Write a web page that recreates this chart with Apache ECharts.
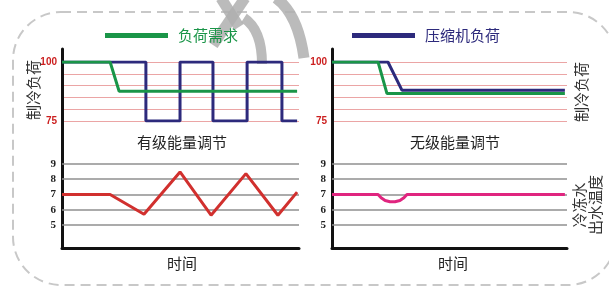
<!DOCTYPE html>
<html><head><meta charset="utf-8">
<script src="https://cdn.jsdelivr.net/npm/echarts@6/dist/echarts.min.js"></script>
<style>html,body{margin:0;padding:0;background:#fff}#c{width:609px;height:287px}</style>
</head><body><div id="c"></div>
<script>
// ---- data ----
const seriesNames = ['负荷需求', '压缩机负荷', '冷冻水出水温度'];
const loadTickLabels = [75, 100];
const tempTickLabels = [5, 6, 7, 8, 9];
const panelTitles = ['有级能量调节', '无级能量调节'];
const timeLabel = '时间';
// stepped (有级) panel, x = time 0..100
const stepDemand = [[0,100],[20.3,100],[24.1,87.6],[99.2,87.6]];
const stepCompressor = [[0,100],[20.3,100],[35.4,100],[35.4,75],[49.8,75],[49.8,100],[63.7,100],[63.7,75],[78.1,75],[78.1,100],[92.8,100],[92.8,75],[99.2,75]];
const stepWaterTemp = [[0,7],[20.3,7],[34.6,5.7],[49.8,8.47],[62.9,5.64],[77.6,8.36],[91.1,5.64],[99.2,7.15]];
// stepless (无级) panel
const smoothDemand = [[0,100],[19.6,100],[23.4,86.6],[99.1,86.6]];
const smoothCompressor = [[0,100],[23.8,100],[29.8,88],[99.1,88]];
const smoothWaterTemp = [[0,7],[19.6,7],[20.9,6.78],[22.6,6.6],[24.7,6.52],[26.8,6.52],[28.9,6.6],[30.6,6.78],[31.9,7],[99.1,7]];

const GREEN = '#1a9548', NAVY = '#2d2a7c', RED = '#d1302e', MAGENTA = '#e0257f';
const CJK = '"Noto Sans CJK SC", sans-serif';
const WM = 'rgba(175,175,175,0.85)';

const chart = echarts.init(document.getElementById('c'), null, {renderer: 'canvas'});

function loadY(gi) {
  return {gridIndex: gi, type: 'value', min: 75, max: 100, interval: 5,
    axisLine: {show: false}, axisTick: {show: false},
    splitLine: {lineStyle: {color: '#eba5a5', width: 1}},
    axisLabel: {margin: 5, color: '#cc1f1f', fontWeight: 'bold', fontSize: 10, fontFamily: 'Liberation Sans',
      formatter: v => loadTickLabels.includes(v) ? String(v) : ''}};
}
function tempY(gi) {
  return {gridIndex: gi, type: 'value', min: 3.5, max: 16.5, interval: 0.5,
    axisLine: {show: true, lineStyle: {color: '#111', width: 3}}, axisTick: {show: false},
    splitLine: {show: false},
    axisLabel: {margin: 6, color: '#222', fontWeight: 'bold', fontSize: 11, fontFamily: 'Liberation Serif',
      formatter: v => tempTickLabels.includes(v) ? String(v) : ''}};
}
function topX(gi) { return {gridIndex: gi, type: 'value', min: 0, max: 100, show: false}; }
function botX(gi) {
  return {gridIndex: gi, type: 'value', min: 0, max: 100,
    axisLine: {show: true, onZero: false, lineStyle: {color: '#111', width: 3}},
    axisTick: {show: false}, axisLabel: {show: false}, splitLine: {show: false}};
}
function line(name, data, color, gi, z) {
  return {name, type: 'line', xAxisIndex: gi, yAxisIndex: gi, data, symbol: 'none',
    lineStyle: {color, width: 3}, itemStyle: {color}, z: z || 2, animation: false};
}
function tempLine(name, data, color, gi) {
  const s = line(name, data, color, gi, 3);
  s.markLine = {silent: true, symbol: 'none', z: 1, label: {show: false}, animation: false,
    lineStyle: {color: '#8f8f8f', width: 1.5, type: 'solid'},
    data: tempTickLabels.map(v => ({yAxis: v}))};
  return s;
}

const option = {
  backgroundColor: '#fff',
  animation: false,
  legend: [
    {left: 100, top: 23, icon: 'rect', itemWidth: 63, itemHeight: 5, selectedMode: false,
      textStyle: {fontSize: 15, fontFamily: CJK, padding: [0,0,0,5]},
      data: [{name: seriesNames[0], textStyle: {color: GREEN}}]},
    {left: 347, top: 23, icon: 'rect', itemWidth: 63, itemHeight: 5, selectedMode: false,
      textStyle: {fontSize: 15, fontFamily: CJK, padding: [0,0,0,5]},
      data: [{name: seriesNames[1], textStyle: {color: NAVY}}]}
  ],
  grid: [
    {left: 62, top: 62, width: 237, height: 59},
    {left: 62, top: 49, width: 237, height: 199},
    {left: 332, top: 62, width: 235, height: 59},
    {left: 332, top: 49, width: 235, height: 199}
  ],
  xAxis: [topX(0), botX(1), topX(2), botX(3)],
  yAxis: [loadY(0), tempY(1), loadY(2), tempY(3)],
  series: [
    line(seriesNames[1], stepCompressor, NAVY, 0),
    line(seriesNames[0], stepDemand, GREEN, 0),
    tempLine(seriesNames[2], stepWaterTemp, RED, 1),
    line(seriesNames[1], smoothCompressor, NAVY, 2),
    line(seriesNames[0], smoothDemand, GREEN, 2),
    tempLine(seriesNames[2], smoothWaterTemp, MAGENTA, 3)
  ],
  graphic: [
    {type: 'rect', silent: true, z: -1, shape: {x: 13, y: 12, width: 603, height: 273, r: 48},
      style: {fill: 'none', stroke: '#c8c8c8', lineWidth: 2, lineDash: [10, 6]}},
    // watermark strokes
    {type: 'group', silent: true, z: 100, children: [
      {type: 'line', shape: {x1: 221, y1: -2, x2: 239, y2: 27}, style: {stroke: WM, lineWidth: 11}},
      {type: 'line', shape: {x1: 245, y1: -2, x2: 213, y2: 45}, style: {stroke: WM, lineWidth: 11}},
      {type: 'bezierCurve', shape: {x1: 244, y1: 18, x2: 262, y2: 64, cpx1: 262, cpy1: 30}, style: {stroke: WM, lineWidth: 10, fill: 'none'}},
      {type: 'bezierCurve', shape: {x1: 276, y1: -2, x2: 304, y2: 58, cpx1: 298, cpy1: 14}, style: {stroke: WM, lineWidth: 11, fill: 'none'}}
    ]},
    {type: 'text', x: 182, y: 142, style: {text: panelTitles[0], font: '15px ' + CJK, fill: '#222', align: 'center', verticalAlign: 'middle'}},
    {type: 'text', x: 455, y: 142, style: {text: panelTitles[1], font: '15px ' + CJK, fill: '#222', align: 'center', verticalAlign: 'middle'}},
    {type: 'text', x: 182, y: 263, style: {text: timeLabel, font: '15px ' + CJK, fill: '#222', align: 'center', verticalAlign: 'middle'}},
    {type: 'text', x: 453, y: 263, style: {text: timeLabel, font: '15px ' + CJK, fill: '#222', align: 'center', verticalAlign: 'middle'}},
    {type: 'text', x: 33, y: 90, rotation: Math.PI / 2, style: {text: '制冷负荷', font: '15px ' + CJK, fill: '#333', align: 'center', verticalAlign: 'middle'}},
    {type: 'text', x: 581, y: 92, rotation: Math.PI / 2, style: {text: '制冷负荷', font: '15px ' + CJK, fill: '#333', align: 'center', verticalAlign: 'middle'}},
    {type: 'text', x: 587, y: 205, rotation: Math.PI / 2, style: {text: '冷冻水\n出水温度', font: '15px ' + CJK, lineHeight: 16, fill: '#333', align: 'center', verticalAlign: 'middle'}}
  ]
};
chart.setOption(option);
</script></body></html>
